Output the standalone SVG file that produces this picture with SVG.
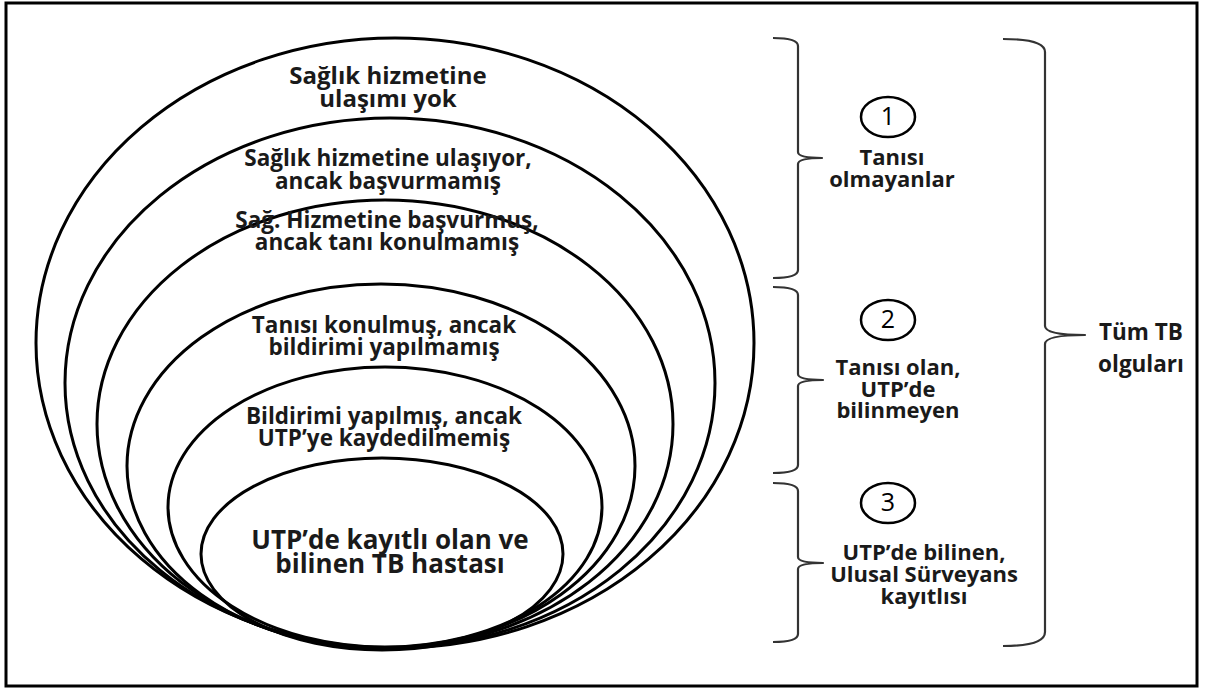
<svg xmlns="http://www.w3.org/2000/svg" width="1206" height="689" viewBox="0 0 1206 689">
<style>
.ell{fill:none;stroke:#000;stroke-width:3}
.br{fill:none;stroke:#333;stroke-width:2.2;stroke-linejoin:round}
.num{fill:#fff;stroke:#000;stroke-width:2.5}
text{font-family:"Open Sans","Noto Sans","Liberation Sans",sans-serif;font-weight:700;fill:#1a1a1a;text-anchor:middle}
.l{font-size:22.5px}
.r{font-size:22px}
.n{font-size:25px;font-weight:400;fill:#000}
</style>
<rect x="6" y="3" width="1191" height="683" fill="#fff" stroke="#000" stroke-width="3"/>
<g id="layer1"><ellipse class="ell" cx="395" cy="343" rx="359" ry="305"/>
<text class="l" x="388" y="84" style="font-size:24px">Sağlık hizmetine</text>
<text class="l" x="388" y="107" style="font-size:24px">ulaşımı yok</text></g>
<g id="layer2"><ellipse class="ell" cx="390" cy="383" rx="325" ry="265"/>
<text class="l" x="388" y="166">Sağlık hizmetine ulaşıyor,</text>
<text class="l" x="388" y="189">ancak başvurmamış</text></g>
<g id="layer3"><ellipse class="ell" cx="385" cy="424" rx="288" ry="224"/>
<text class="l" x="387" y="228">Sağ. Hizmetine başvurmuş,</text>
<text class="l" x="387" y="250">ancak tanı konulmamış</text></g>
<g id="layer4"><ellipse class="ell" cx="381" cy="466" rx="254" ry="182"/>
<text class="l" x="384" y="333">Tanısı konulmuş, ancak</text>
<text class="l" x="384" y="355">bildirimi yapılmamış</text></g>
<g id="layer5"><ellipse class="ell" cx="385" cy="507" rx="217" ry="140"/>
<text class="l" x="384" y="424">Bildirimi yapılmış, ancak</text>
<text class="l" x="384" y="446">UTP’ye kaydedilmemiş</text></g>
<g id="layer6"><ellipse class="ell" cx="382" cy="554" rx="181" ry="96"/>
<text class="l" x="390" y="549" style="font-size:26px">UTP’de kayıtlı olan ve</text>
<text class="l" x="390" y="573" style="font-size:26px">bilinen TB hastası</text></g>
<g id="connectors">
<path class="br" d="M773,38 Q798,38 798,46 L798,152 Q798,158 822,158 Q798,158 798,164 L798,270 Q798,278 773,278"/>
<path class="br" d="M773,287 Q798,287 798,295 L798,374 Q798,380 823,380 Q798,380 798,386 L798,465 Q798,473 773,473"/>
<path class="br" d="M773,483 Q798,483 798,491 L798,557 Q798,563 823,563 Q798,563 798,569 L798,634 Q798,642 773,642"/>
<path class="br" d="M1003,39 Q1045,39 1045,52 L1045,326 Q1045,335 1085,335 Q1045,335 1045,344 L1045,632 Q1045,646 1003,646"/>
</g>
<g id="group1"><ellipse class="num" cx="888" cy="117" rx="27" ry="20"/>
<text class="n" x="888" y="125">1</text>
<text class="r" x="892" y="165">Tanısı</text>
<text class="r" x="892" y="187">olmayanlar</text></g>
<g id="group2"><ellipse class="num" cx="888" cy="320" rx="27" ry="20"/>
<text class="n" x="888" y="328">2</text>
<text class="r" x="898" y="375">Tanısı olan,</text>
<text class="r" x="898" y="397">UTP’de</text>
<text class="r" x="898" y="418">bilinmeyen</text></g>
<g id="group3"><ellipse class="num" cx="888" cy="503" rx="27" ry="20"/>
<text class="n" x="888" y="511">3</text>
<text class="r" x="924" y="560">UTP’de bilinen,</text>
<text class="r" x="924" y="582">Ulusal Sürveyans</text>
<text class="r" x="924" y="604">kayıtlısı</text></g>
<g id="total">
<text class="r" x="1141" y="340" style="font-size:22.5px">Tüm TB</text>
<text class="r" x="1141" y="372" style="font-size:22.5px">olguları</text></g>
</svg>
